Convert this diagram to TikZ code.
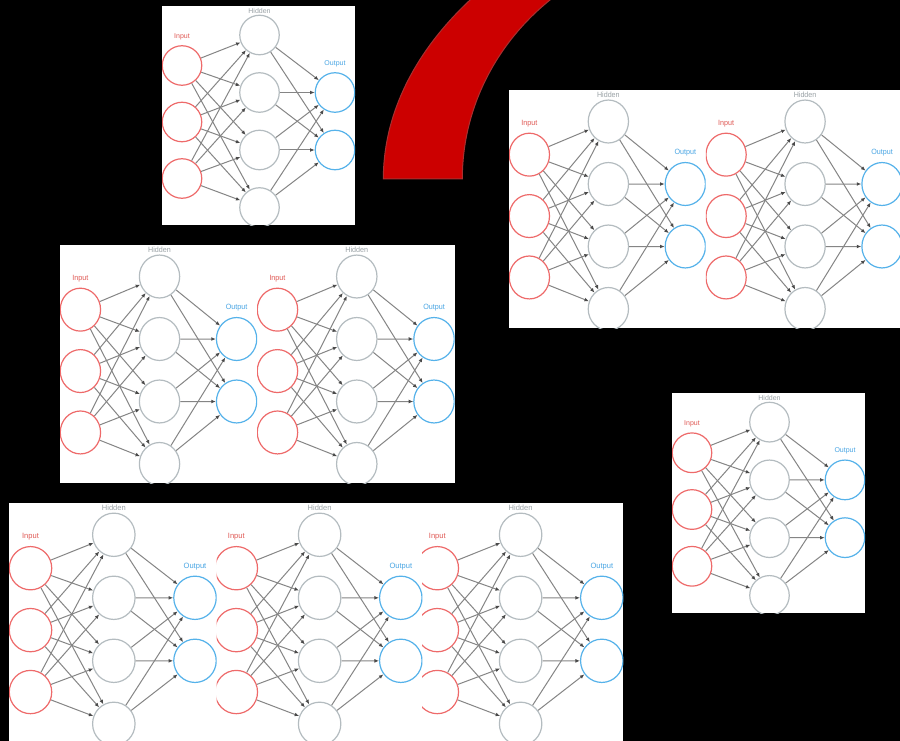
\documentclass[tikz,border=0pt]{standalone}
\usepackage{fontspec}
\setsansfont{Liberation Sans}
\usetikzlibrary{arrows.meta}
\definecolor{inred}{HTML}{EE6A6A}
\definecolor{hidgray}{HTML}{B4BCC0}
\definecolor{outblue}{HTML}{55B2EA}
\definecolor{lblred}{HTML}{E05A55}
\definecolor{lblgray}{HTML}{9AA2A6}
\definecolor{lblblue}{HTML}{4AA6E4}
\definecolor{linegray}{HTML}{858585}
\definecolor{tipgray}{HTML}{4A4A4A}
\definecolor{arcred}{HTML}{CC0000}
\definecolor{arcedge}{HTML}{A83030}
\tikzset{
  neuron/.style={circle, minimum size=39.5pt, inner sep=0pt, line width=1.2pt},
  inn/.style={neuron, draw=inred},
  hid/.style={neuron, draw=hidgray},
  outn/.style={neuron, draw=outblue},
  conn/.style={draw=linegray, line width=1pt, -{Latex[length=4.5pt,width=3.8pt,color=tipgray]}},
  lbl/.style={font=\sffamily\fontsize{7}{8}\selectfont, inner sep=0pt},
  panelbg/.style={fill=white},
}
% #1 name prefix, #2 left, #3 top, #4 width, #5 height (pixels)
\newcommand{\nnet}[5]{%
  \begin{scope}
    \clip (#2,#3) rectangle ++(#4,#5);
    \fill[white] (#2,#3) rectangle ++(#4,#5);
    \begin{scope}[shift={(#2,#3)}, xscale=#4/193, yscale=#5/219, transform shape]
      \node[inn] (#1i1) at (20,59.5) {};
      \node[inn] (#1i2) at (20,116) {};
      \node[inn] (#1i3) at (20,172.5) {};
      \node[hid] (#1h1) at (97.5,29) {};
      \node[hid] (#1h2) at (97.5,86.5) {};
      \node[hid] (#1h3) at (97.5,144) {};
      \node[hid] (#1h4) at (97.5,201.5) {};
      \node[outn] (#1o1) at (173,86.5) {};
      \node[outn] (#1o2) at (173,144) {};
      \node[lbl, text=lblgray] (#1lh) at (97.5,4.5) {Hidden};
      \node[lbl, text=lblred] (#1li) at (20,31) {Input};
      \node[lbl, text=lblblue] (#1lo) at (173,58) {Output};
      \foreach \a in {1,2,3}{\foreach \b in {1,2,3,4}{\draw[conn] (#1i\a) -- (#1h\b);}}
      \foreach \a in {1,2,3,4}{\foreach \b in {1,2}{\draw[conn] (#1h\a) -- (#1o\b);}}
    \end{scope}
  \end{scope}}
\begin{document}
\begin{tikzpicture}[x=1pt,y=-1pt]
  \useasboundingbox (0,0) rectangle (900,741);
  \begin{scope}
    \clip (0,0) rectangle (900,741);
    \fill[black] (0,0) rectangle (900,741);
    % red block arc
    \filldraw[fill=arcred, draw=arcedge, line width=1pt]
      plot[domain=0:37, samples=40, variable=\t] ({891.8-508.5*cos(\t)},{179-320.5*sin(\t)})
      -- plot[domain=54:0, samples=50, variable=\t] ({716.4-254.1*cos(\t)},{179-236.9*sin(\t)})
      -- cycle;
    % panel backgrounds
    \fill[panelbg] (509,90) rectangle (905,328);
    \fill[panelbg] (60,245) rectangle (454.5,483);
    \fill[panelbg] (9,503) rectangle (623.3,745);
    % panel 1
    \nnet{pa}{162}{6}{193}{219}
    % panel 2 (two copies)
    \nnet{pbb}{705.7}{90}{196.7}{238}
    \nnet{pba}{509}{90}{196.7}{238}
    % panel 3 (two copies)
    \nnet{pcb}{257}{245}{197.5}{238}
    \nnet{pca}{60}{245}{197}{238}
    % panel 4
    \nnet{pd}{672}{393}{193}{220}
    % panel 5 (three copies)
    \nnet{pec}{415.8}{503}{207.5}{240}
    \nnet{peb}{214.8}{503}{207.5}{240}
    \nnet{pea}{9}{503}{207.5}{240}
  \end{scope}
\end{tikzpicture}
\end{document}
